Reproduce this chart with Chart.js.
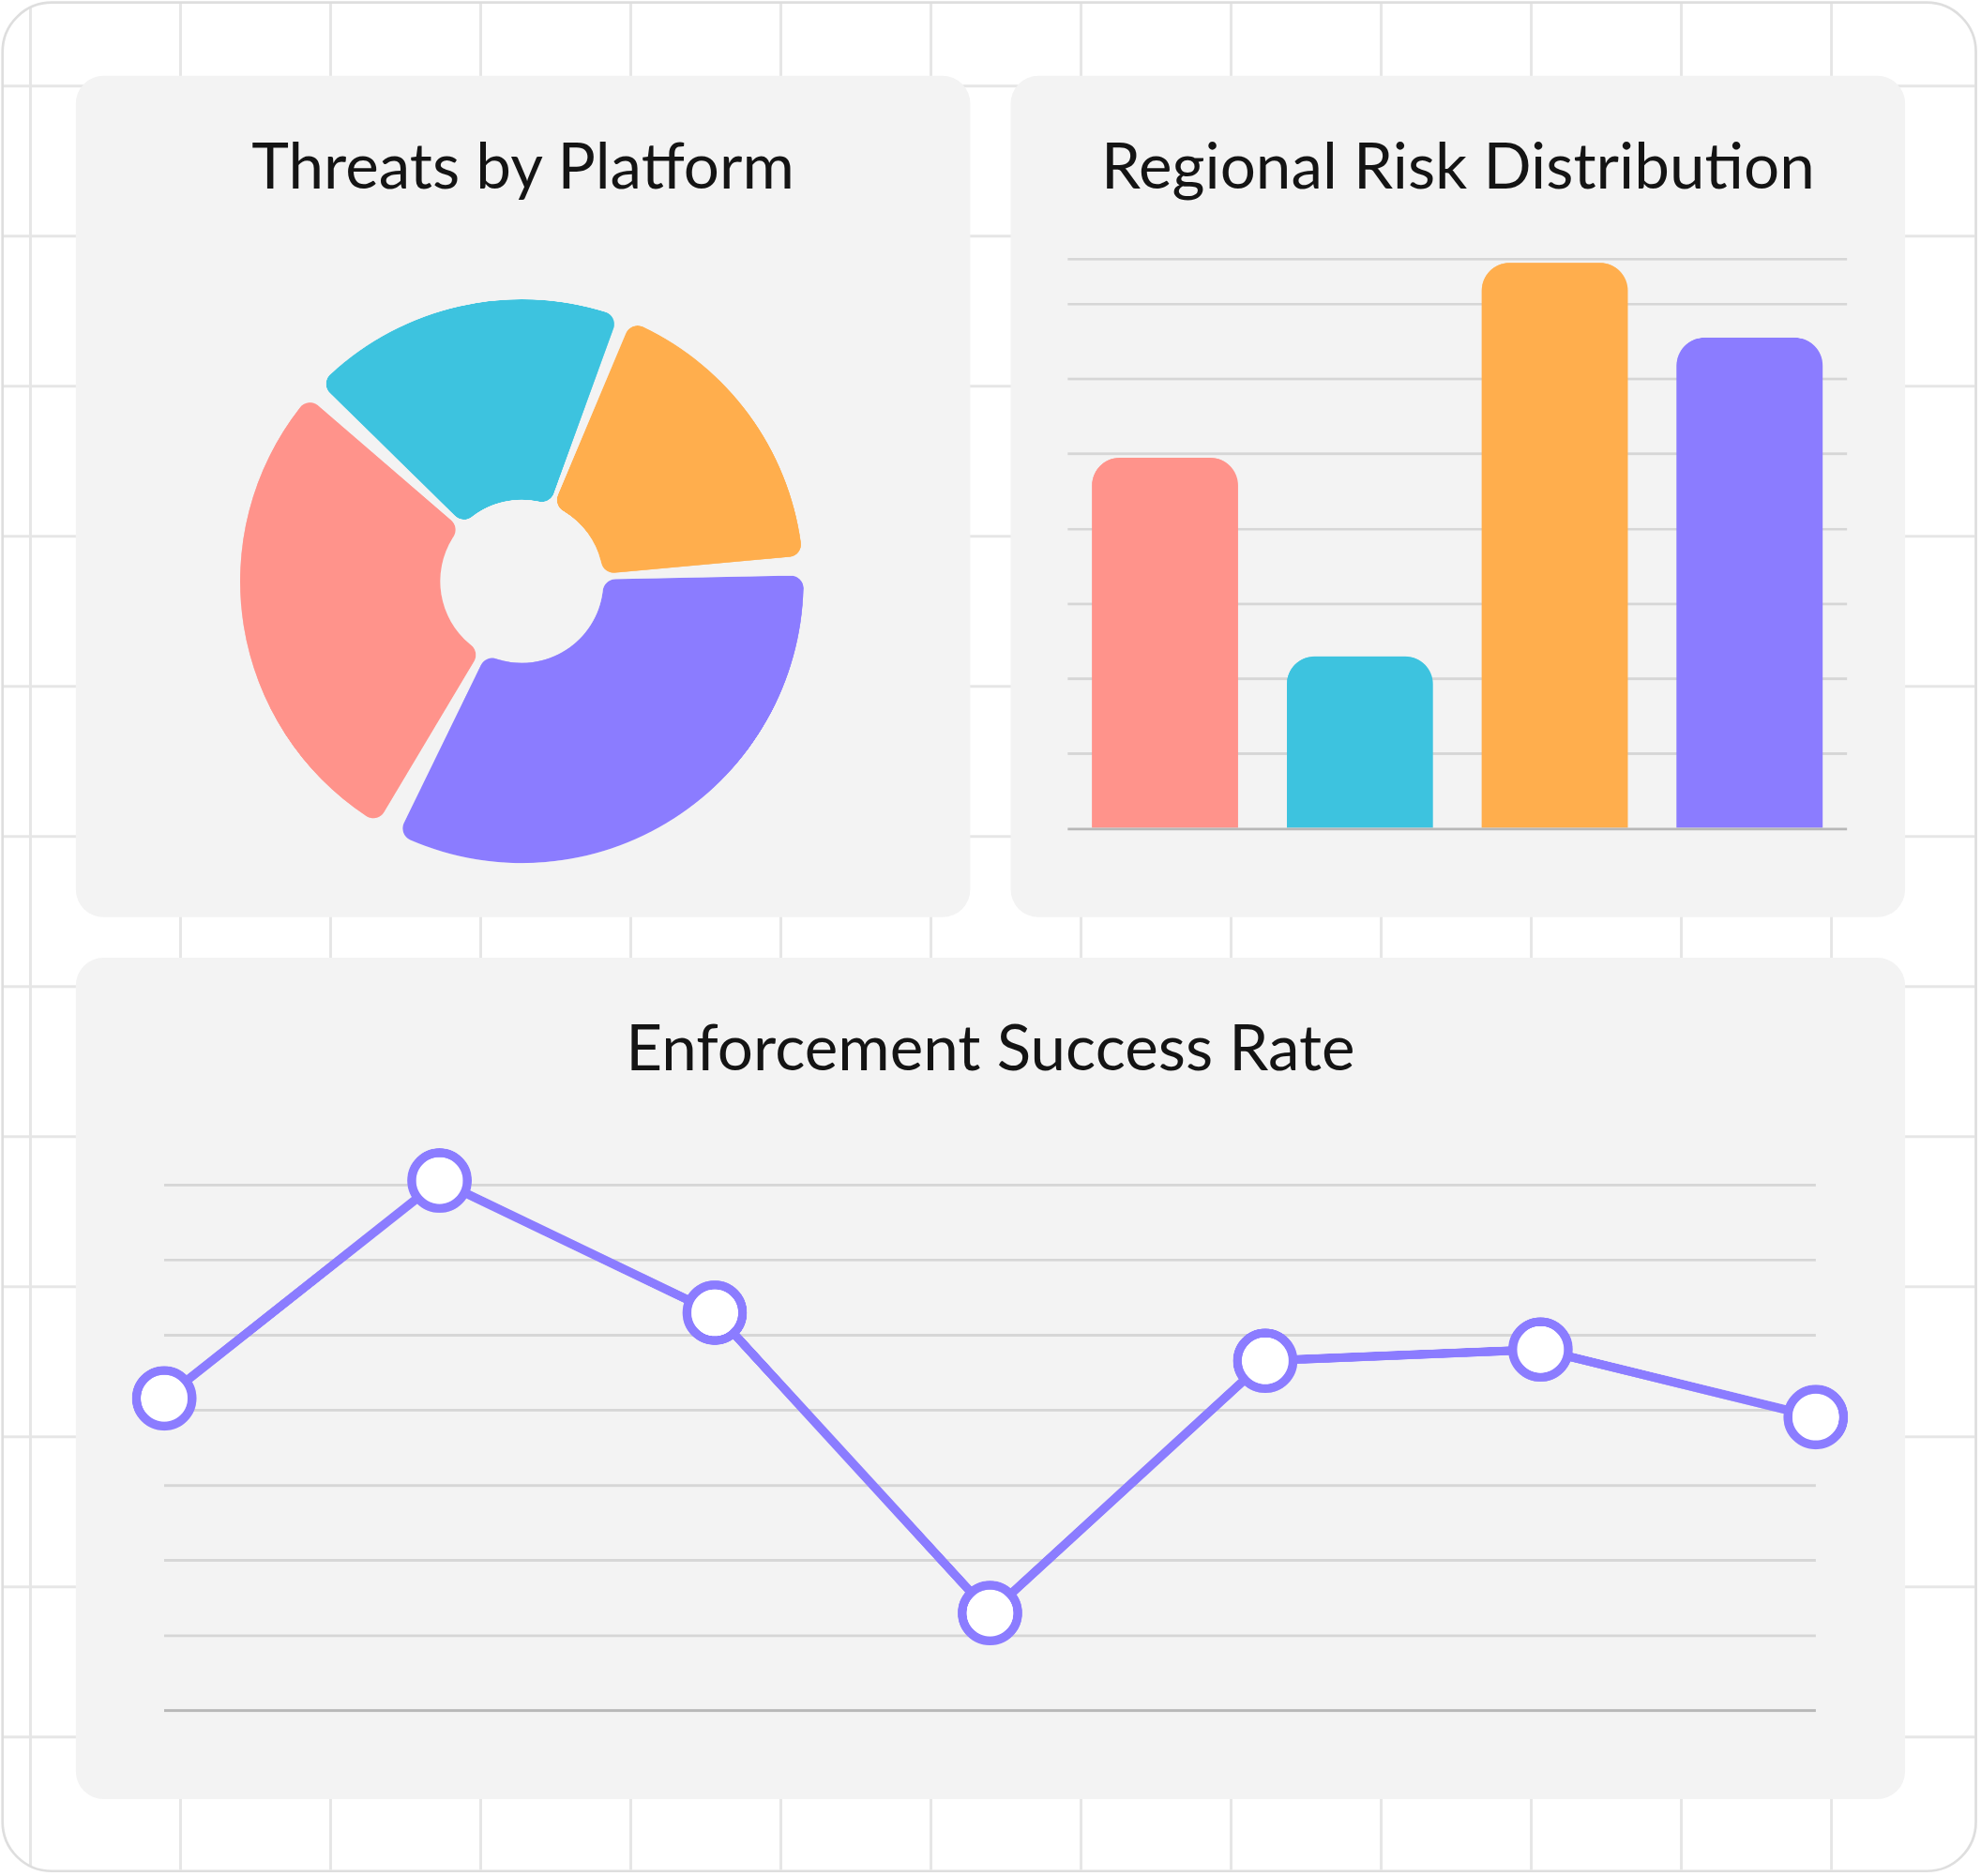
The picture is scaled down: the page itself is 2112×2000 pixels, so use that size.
<!DOCTYPE html>
<html>
<head>
<meta charset="utf-8">
<script src="https://cdn.jsdelivr.net/npm/chart.js@4"></script>
<style>
  body { margin: 0; background: #fff; overflow: hidden; font-family: "Lato", "Inter", sans-serif; }
  #stage { position: absolute; left: 0; top: 0; width: 1568px; height: 1485px; transform-origin: 0 0; transform: scale(1.3469); }
  #frame {
    position: absolute; left: 1px; top: 1px; width: 1564px; height: 1481px;
    border: 2px solid #dedede; border-radius: 40px; box-sizing: border-box;
    background-color: #fff;
    background-image:
      linear-gradient(to right, #e6e6e6 2px, transparent 2px),
      linear-gradient(to bottom, #e6e6e6 2px, transparent 2px);
    background-size: 118.8px 118.8px;
    background-position: 20px 64px;
  }
  .panel { position: absolute; background: #f3f3f3; border-radius: 22px; }
  .title { position: absolute; left: 0; right: 0; text-align: center; font-size: 50px; color: #141414; top: 40px; }
  canvas { position: absolute; }
</style>
</head>
<body>
<div id="stage">
  <div id="frame"></div>
  <div class="panel" style="left:60px;top:60px;width:708px;height:666px"><div class="title">Threats by Platform</div></div>
  <div class="panel" style="left:800px;top:60px;width:708px;height:666px"><div class="title">Regional Risk Distribution</div></div>
  <div class="panel" style="left:60px;top:758px;width:1448px;height:666px"><div class="title">Enforcement Success Rate</div></div>
  <canvas id="pie" width="466" height="466" style="left:180px;top:227px;width:466px;height:466px"></canvas>
  <canvas id="bars" width="670" height="490" style="left:820px;top:190px;width:670px;height:490px"></canvas>
  <canvas id="line" width="1408" height="520" style="left:80px;top:880px;width:1408px;height:520px"></canvas>
</div>
<script>
// Data -------------------------------------
const platform_labels = ['Social', 'Marketplace', 'Messaging', 'Web']
const platform_values = [19, 18, 34, 29]
const platform_colors = ['#3dc3df', '#ffae4d', '#8b7cff', '#ff938b']

const region_labels = ['North', 'South', 'East', 'West']
const region_values = [4.95, 2.3, 7.55, 6.55]

const month_labels = ['Jan', 'Feb', 'Mar', 'Apr', 'May', 'Jun', 'Jul']
const success_values = [4.16, 7.06, 5.3, 1.3, 4.66, 4.81, 3.91]

const purple = '#8b7cff'
const grid_color = '#d6d6d6'
const base_color = '#b8b8b8'

Chart.defaults.animation = false
Chart.defaults.responsive = false
Chart.defaults.devicePixelRatio = 2.7
Chart.defaults.plugins.legend.display = false
Chart.defaults.plugins.tooltip.enabled = false

// grid helper: darker baseline
function gridOpts() {
    return {
        color: (c) => c.tick && c.tick.value === 0 ? base_color : grid_color,
        lineWidth: 2,
        drawTicks: false,
    }
}

// Doughnut
new Chart(document.getElementById('pie'), {
    type: 'doughnut',
    data: {
        labels: platform_labels,
        datasets: [{
            data: platform_values,
            backgroundColor: platform_colors,
            borderWidth: 0,
            spacing: 12,
            borderRadius: 10,
        }]
    },
    options: {
        cutout: '27%',
        rotation: -47,
        layout: { padding: 10 },
    }
})

// Bars
new Chart(document.getElementById('bars'), {
    type: 'bar',
    data: {
        labels: region_labels,
        datasets: [{
            data: region_values,
            backgroundColor: platform_colors.slice(0).sort(() => 0).map((c, i) => ['#ff938b', '#3dc3df', '#ffae4d', '#8b7cff'][i]),
            borderRadius: { topLeft: 22, topRight: 22 },
            borderSkipped: 'bottom',
            barPercentage: 0.75,
            categoryPercentage: 1,
        }]
    },
    options: {
        layout: { padding: { left: 25, right: 28, top: 15, bottom: 24 } },
        scales: {
            x: { display: false },
            y: {
                min: 0, max: 7.6,
                ticks: { display: false, stepSize: 1 },
                border: { display: false },
                grid: gridOpts(),
            }
        }
    }
})

// Line
new Chart(document.getElementById('line'), {
    type: 'line',
    data: {
        labels: month_labels,
        datasets: [{
            data: success_values,
            borderColor: purple,
            borderWidth: 7,
            pointRadius: 22,
            pointBorderWidth: 7,
            pointBackgroundColor: '#fff',
            pointBorderColor: purple,
            tension: 0,
            clip: false,
        }]
    },
    options: {
        layout: { padding: { left: 50, right: 51, top: 58, bottom: 46 } },
        scales: {
            x: { display: false, offset: false },
            y: {
                min: 0, max: 7,
                ticks: { display: false, stepSize: 1 },
                border: { display: false },
                grid: gridOpts(),
            }
        }
    }
})
</script>
</body>
</html>
